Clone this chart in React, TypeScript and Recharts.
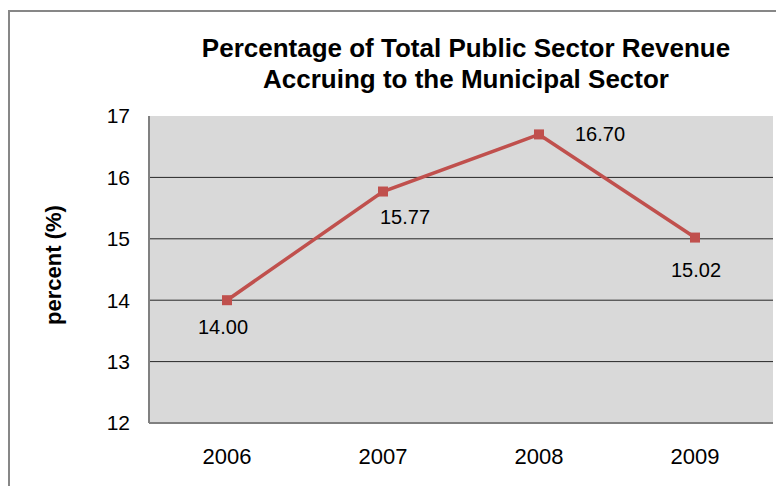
import { LineChart, Line, XAxis, YAxis, CartesianGrid } from 'recharts';

const YEARS = ['2006', '2007', '2008', '2009'];
const PERCENT = [14.0, 15.77, 16.7, 15.02];
const Y_TICKS = [12, 13, 14, 15, 16, 17];
// where Excel placed each data label relative to its point
const LABEL_PLACE = ['belowLeft', 'belowRight', 'right', 'below'];

const LINE_COLOR = '#C0504D';
const FONT = '"Liberation Sans", Arial, sans-serif';

const chartData = YEARS.map((year, i) => ({ year, value: PERCENT[i], place: LABEL_PLACE[i] }));

const OFFSETS: Record<string, [number, number]> = {
  belowLeft: [-4, 27],
  belowRight: [22, 25],
  right: [61, 0],
  below: [1, 32],
};

const SquareDot = (props: any) => {
  const { cx, cy } = props;
  if (cx == null || cy == null) return null;
  return <rect x={cx - 5} y={cy - 5} width={10} height={10} fill={LINE_COLOR} />;
};

const ValueLabel = (props: any) => {
  const { x, y, value, index } = props;
  const [dx, dy] = OFFSETS[chartData[index].place];
  return (
    <text
      x={x + dx}
      y={y + dy}
      textAnchor="middle"
      dominantBaseline="central"
      fontSize={20}
      fontFamily={FONT}
      fill="#000"
    >
      {Number(value).toFixed(2)}
    </text>
  );
};

export default function App() {
  return (
    <div style={{ position: 'relative', width: 776, height: 478, overflow: 'hidden', fontFamily: FONT }}>
      <div
        style={{
          position: 'absolute',
          left: 0,
          top: 2,
          width: 820,
          height: 520,
          border: '2px solid #878787',
          background: '#fff',
        }}
      />
      <div
        style={{
          position: 'absolute',
          left: 0,
          top: 0,
          width: 776,
          textAlign: 'center',
          paddingLeft: 140,
          boxSizing: 'border-box',
          fontSize: 26,
          fontWeight: 'bold',
          lineHeight: '31px',
          marginTop: 25,
          color: '#000',
        }}
      >
        <div>Percentage of Total Public Sector Revenue</div>
        <div>Accruing to the Municipal Sector</div>
      </div>
      <div
        style={{
          position: 'absolute',
          left: 46,
          top: 257,
          transform: 'translate(-50%, -50%) rotate(-90deg)',
          fontSize: 22,
          fontWeight: 'bold',
          whiteSpace: 'nowrap',
          color: '#000',
        }}
      >
        percent (%)
      </div>
      <div style={{ position: 'absolute', left: 0, top: 0 }}>
        <LineChart width={776} height={478} data={chartData} margin={{ top: 108, right: 11, bottom: 0, left: 0 }}>
          <CartesianGrid vertical={false} fill="#D9D9D9" stroke="#262626" strokeWidth={1} horizontalValues={[13, 14, 15, 16]} />
          <XAxis
            dataKey="year"
            height={63}
            padding={{ left: 78, right: 78 }}
            tickLine={false}
            tickSize={0}
            tickMargin={25}
            axisLine={{ stroke: '#808080', strokeWidth: 2 }}
            tick={{ fill: '#000', fontSize: 22, fontFamily: FONT }}
          />
          <XAxis
            xAxisId="top"
            orientation="top"
            dataKey="year"
            height={0}
            tick={false}
            tickLine={false}
            axisLine={{ stroke: '#808080', strokeWidth: 2 }}
          />
          <YAxis
            width={141}
            domain={[12, 17]}
            ticks={Y_TICKS}
            tickLine={false}
            tickSize={0}
            tickMargin={19}
            axisLine={{ stroke: '#808080', strokeWidth: 2 }}
            tick={{ fill: '#000', fontSize: 21, fontFamily: FONT }}
          />
          <YAxis
            yAxisId="right"
            orientation="right"
            width={0}
            domain={[12, 17]}
            tick={false}
            tickLine={false}
            axisLine={{ stroke: '#808080', strokeWidth: 2 }}
          />
          <Line
            type="linear"
            dataKey="value"
            stroke={LINE_COLOR}
            strokeWidth={3.5}
            dot={<SquareDot />}
            activeDot={false}
            label={<ValueLabel />}
            isAnimationActive={false}
          />
        </LineChart>
      </div>
    </div>
  );
}
